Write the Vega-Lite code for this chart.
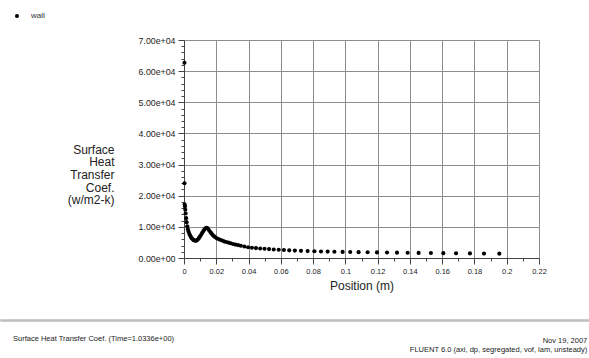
{
  "$schema": "https://vega.github.io/schema/vega-lite/v6.json",
  "padding": 0,
  "background": "white",
  "config": {
    "font": "Liberation Sans",
    "view": {"stroke": null}
  },
  "bounds": "flush",
  "center": true,
  "spacing": 62,
  "title": {
    "text": ["Nov 19, 2007", "FLUENT 6.0 (axi, dp, segregated, vof, lam, unsteady)"],
    "orient": "bottom",
    "anchor": "start",
    "align": "right",
    "fontSize": 7.5,
    "fontWeight": "normal",
    "color": "#222",
    "lineHeight": 9,
    "offset": 0,
    "dx": 587,
    "dy": -6
  },
  "vconcat": [
    {
      "width": 355,
      "height": 218,
      "data": {
        "values": [
          {"position": 0.0003, "htc": 62700, "zone": "wall"},
          {"position": 0.0003, "htc": 24000, "zone": "wall"},
          {"position": 0.0004, "htc": 17200, "zone": "wall"},
          {"position": 0.0006, "htc": 16500, "zone": "wall"},
          {"position": 0.0008, "htc": 15500, "zone": "wall"},
          {"position": 0.0010, "htc": 14300, "zone": "wall"},
          {"position": 0.0013, "htc": 12800, "zone": "wall"},
          {"position": 0.0016, "htc": 11500, "zone": "wall"},
          {"position": 0.0020, "htc": 10200, "zone": "wall"},
          {"position": 0.0024, "htc": 9200, "zone": "wall"},
          {"position": 0.0028, "htc": 8500, "zone": "wall"},
          {"position": 0.0033, "htc": 7800, "zone": "wall"},
          {"position": 0.0038, "htc": 7200, "zone": "wall"},
          {"position": 0.0043, "htc": 6750, "zone": "wall"},
          {"position": 0.0048, "htc": 6350, "zone": "wall"},
          {"position": 0.0054, "htc": 6000, "zone": "wall"},
          {"position": 0.0060, "htc": 5750, "zone": "wall"},
          {"position": 0.0066, "htc": 5600, "zone": "wall"},
          {"position": 0.0072, "htc": 5550, "zone": "wall"},
          {"position": 0.0078, "htc": 5600, "zone": "wall"},
          {"position": 0.0084, "htc": 5850, "zone": "wall"},
          {"position": 0.0091, "htc": 6300, "zone": "wall"},
          {"position": 0.0098, "htc": 6850, "zone": "wall"},
          {"position": 0.0105, "htc": 7400, "zone": "wall"},
          {"position": 0.0112, "htc": 8000, "zone": "wall"},
          {"position": 0.0119, "htc": 8600, "zone": "wall"},
          {"position": 0.0126, "htc": 9150, "zone": "wall"},
          {"position": 0.0133, "htc": 9550, "zone": "wall"},
          {"position": 0.0140, "htc": 9700, "zone": "wall"},
          {"position": 0.0147, "htc": 9500, "zone": "wall"},
          {"position": 0.0154, "htc": 9000, "zone": "wall"},
          {"position": 0.0162, "htc": 8400, "zone": "wall"},
          {"position": 0.0170, "htc": 7900, "zone": "wall"},
          {"position": 0.0178, "htc": 7400, "zone": "wall"},
          {"position": 0.0186, "htc": 7000, "zone": "wall"},
          {"position": 0.0194, "htc": 6650, "zone": "wall"},
          {"position": 0.0203, "htc": 6350, "zone": "wall"},
          {"position": 0.0213, "htc": 6100, "zone": "wall"},
          {"position": 0.0224, "htc": 5850, "zone": "wall"},
          {"position": 0.0236, "htc": 5600, "zone": "wall"},
          {"position": 0.0248, "htc": 5350, "zone": "wall"},
          {"position": 0.0261, "htc": 5150, "zone": "wall"},
          {"position": 0.0275, "htc": 4950, "zone": "wall"},
          {"position": 0.0289, "htc": 4750, "zone": "wall"},
          {"position": 0.0304, "htc": 4500, "zone": "wall"},
          {"position": 0.0319, "htc": 4300, "zone": "wall"},
          {"position": 0.0335, "htc": 4150, "zone": "wall"},
          {"position": 0.0352, "htc": 3950, "zone": "wall"},
          {"position": 0.0374, "htc": 3700, "zone": "wall"},
          {"position": 0.0397, "htc": 3450, "zone": "wall"},
          {"position": 0.0421, "htc": 3300, "zone": "wall"},
          {"position": 0.0446, "htc": 3180, "zone": "wall"},
          {"position": 0.0472, "htc": 3060, "zone": "wall"},
          {"position": 0.0499, "htc": 2950, "zone": "wall"},
          {"position": 0.0527, "htc": 2850, "zone": "wall"},
          {"position": 0.0556, "htc": 2740, "zone": "wall"},
          {"position": 0.0587, "htc": 2640, "zone": "wall"},
          {"position": 0.0619, "htc": 2550, "zone": "wall"},
          {"position": 0.0652, "htc": 2460, "zone": "wall"},
          {"position": 0.0687, "htc": 2380, "zone": "wall"},
          {"position": 0.0725, "htc": 2300, "zone": "wall"},
          {"position": 0.0766, "htc": 2220, "zone": "wall"},
          {"position": 0.0808, "htc": 2150, "zone": "wall"},
          {"position": 0.0849, "htc": 2100, "zone": "wall"},
          {"position": 0.0890, "htc": 2050, "zone": "wall"},
          {"position": 0.0932, "htc": 2000, "zone": "wall"},
          {"position": 0.0983, "htc": 1950, "zone": "wall"},
          {"position": 0.1030, "htc": 1910, "zone": "wall"},
          {"position": 0.1082, "htc": 1870, "zone": "wall"},
          {"position": 0.1138, "htc": 1830, "zone": "wall"},
          {"position": 0.1196, "htc": 1790, "zone": "wall"},
          {"position": 0.1258, "htc": 1750, "zone": "wall"},
          {"position": 0.1320, "htc": 1710, "zone": "wall"},
          {"position": 0.1386, "htc": 1680, "zone": "wall"},
          {"position": 0.1454, "htc": 1640, "zone": "wall"},
          {"position": 0.1530, "htc": 1600, "zone": "wall"},
          {"position": 0.1607, "htc": 1560, "zone": "wall"},
          {"position": 0.1686, "htc": 1520, "zone": "wall"},
          {"position": 0.1772, "htc": 1480, "zone": "wall"},
          {"position": 0.1859, "htc": 1440, "zone": "wall"},
          {"position": 0.1954, "htc": 1400, "zone": "wall"}
        ]
      },
      "mark": {"type": "point", "filled": true, "opacity": 1, "size": 17, "shape": "circle"},
      "encoding": {
        "x": {
          "field": "position",
          "type": "quantitative",
          "scale": {"domain": [0, 0.22], "nice": false, "zero": false},
          "axis": {
            "title": "Position (m)",
            "values": [0, 0.01, 0.02, 0.03, 0.04, 0.05, 0.06, 0.07, 0.08, 0.09, 0.1, 0.11, 0.12, 0.13, 0.14, 0.15, 0.16, 0.17, 0.18, 0.19, 0.2, 0.21, 0.22],
            "labelExpr": "round(datum.value * 100) % 2 === 0 ? format(datum.value, '~g') : ''",
            "labelOverlap": false,
            "labelFontSize": 7.5,
            "labelColor": "#222",
            "labelPadding": 3,
            "labelFlush": false,
            "grid": true,
            "gridColor": "#8e8e8e",
            "gridWidth": 1,
            "gridOpacity": {"condition": {"test": "round(datum.value * 100) % 2 === 0", "value": 1}, "value": 0},
            "tickSize": {"condition": {"test": "round(datum.value * 100) % 2 === 0", "value": 6}, "value": 3},
            "tickColor": "#444",
            "domainColor": "#444",
            "titleFontSize": 12,
            "titleFontWeight": "normal",
            "titleColor": "#222",
            "titlePadding": 6
          }
        },
        "y": {
          "field": "htc",
          "type": "quantitative",
          "scale": {"domain": [0, 70000], "nice": false},
          "axis": {
            "title": ["Surface", "Heat", "Transfer", "Coef.", "(w/m2-k)"],
            "titleAngle": 0,
            "titleAlign": "right",
            "titleBaseline": "alphabetic",
            "titleX": -70,
            "titleY": 113,
            "titleLineHeight": 12.7,
            "titleFontSize": 12,
            "titleFontWeight": "normal",
            "titleColor": "#222",
            "values": [0, 2000, 4000, 6000, 8000, 10000, 12000, 14000, 16000, 18000, 20000, 22000, 24000, 26000, 28000, 30000, 32000, 34000, 36000, 38000, 40000, 42000, 44000, 46000, 48000, 50000, 52000, 54000, 56000, 58000, 60000, 62000, 64000, 66000, 68000, 70000],
            "labelExpr": "datum.value % 10000 === 0 ? replace(format(datum.value, '.2e'), 'e+', 'e+0') : ''",
            "labelOverlap": false,
            "labelFontSize": 8.8,
            "labelColor": "#222",
            "labelPadding": 3,
            "labelFlush": false,
            "grid": true,
            "gridColor": "#8e8e8e",
            "gridWidth": 1,
            "gridOpacity": {"condition": {"test": "datum.value % 10000 === 0", "value": 1}, "value": 0},
            "tickSize": {"condition": {"test": "datum.value % 10000 === 0", "value": 6}, "value": 3},
            "tickColor": "#444",
            "domainColor": "#444"
          }
        },
        "color": {
          "field": "zone",
          "type": "nominal",
          "scale": {"range": ["#000000"]},
          "legend": {
            "title": null,
            "orient": "none",
            "legendX": 0,
            "legendY": -40,
            "padding": 12,
            "symbolType": "circle",
            "symbolSize": 17,
            "symbolFillColor": "#000000",
            "symbolStrokeWidth": 0,
            "labelFontSize": 8,
            "labelColor": "#333",
            "labelOffset": 10
          }
        }
      }
    },
    {
      "width": 721,
      "height": 1,
      "view": {"stroke": "#bdbdbd", "strokeWidth": 1.5},
      "title": {
        "text": "Surface Heat Transfer Coef.  (Time=1.0336e+00)",
        "orient": "bottom",
        "anchor": "start",
        "fontSize": 7.5,
        "fontWeight": "normal",
        "color": "#222",
        "offset": 14,
        "dx": 12
      },
      "data": {"values": []},
      "mark": {"type": "point"},
      "encoding": {}
    }
  ]
}
